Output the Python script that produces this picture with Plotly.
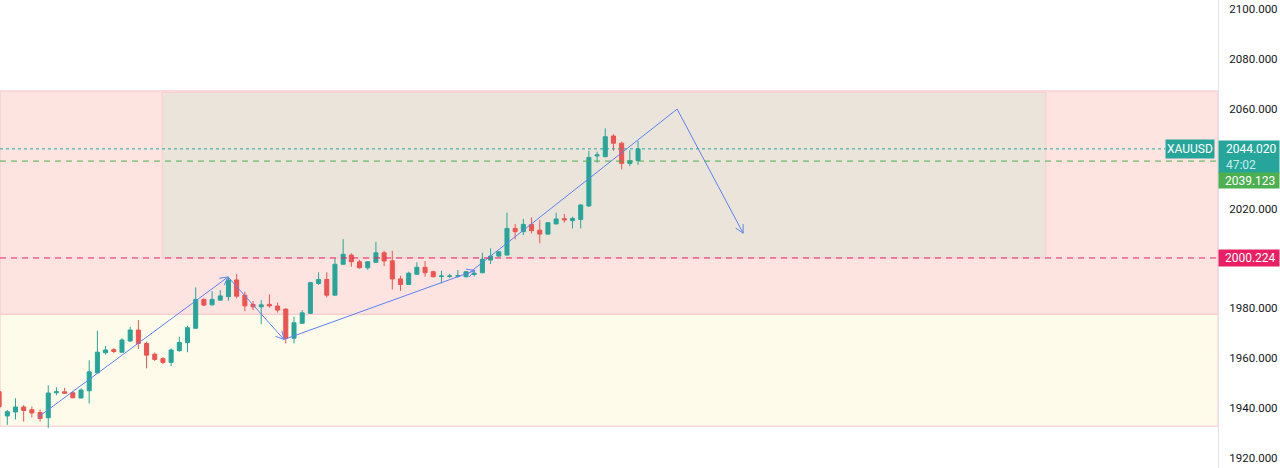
import math
import plotly.graph_objects as go

# ---------------- data ----------------
bar_index = list(range(79))
opens = [1946.5, 1936.8, 1938.4, 1940.4, 1939.3, 1938.2, 1936.1, 1946.1, 1946.5, 1946.1,
         1944.0, 1946.9, 1954.1, 1962.2, 1963.4, 1962.4, 1966.9, 1971.3, 1965.9, 1961.6,
         1959.8, 1958.3, 1963.0, 1966.3, 1972.0, 1983.6, 1981.4, 1983.3, 1984.7, 1991.4,
         1985.3, 1981.6, 1980.6, 1981.6, 1980.9, 1979.7, 1968.0, 1974.0, 1978.0, 1990.0,
         1991.6, 1985.3, 1997.7, 2001.4, 1998.7, 1996.3, 1998.5, 2002.3, 1999.1, 1991.8,
         1989.6, 1993.7, 1996.5, 1994.7, 1992.8, 1992.8, 1992.9, 1992.7, 1993.6, 1994.3,
         1999.4, 2001.0, 2001.4, 2012.1, 2010.8, 2013.7, 2011.4, 2009.8, 2013.9, 2016.0,
         2015.2, 2015.7, 2021.1, 2041.2, 2040.9, 2049.2, 2046.3, 2038.2, 2039.3]
highs = [1947.5, 1939.2, 1943.9, 1941.2, 1940.6, 1939.4, 1949.1, 1948.3, 1948.1, 1946.8,
         1947.9, 1959.2, 1971.0, 1964.9, 1964.0, 1968.0, 1972.6, 1975.3, 1966.6, 1962.3,
         1960.4, 1963.9, 1968.6, 1973.0, 1988.4, 1984.0, 1986.9, 1987.3, 1992.7, 1993.8,
         1986.7, 1982.9, 1983.3, 1985.6, 1982.3, 1980.0, 1976.6, 1979.3, 1990.7, 1994.5,
         1994.5, 2000.1, 2007.8, 2002.1, 1999.5, 1998.9, 2006.7, 2003.1, 2003.1, 1993.1,
         1994.7, 1998.5, 1999.0, 1995.1, 1995.1, 1993.9, 1995.4, 1995.0, 1995.0, 2002.3,
         2004.1, 2003.1, 2018.4, 2013.9, 2015.9, 2016.5, 2015.5, 2014.6, 2018.4, 2017.9,
         2016.8, 2021.7, 2043.2, 2042.9, 2052.3, 2049.9, 2046.9, 2043.6, 2047.2]
lows = [1938.5, 1933.2, 1935.4, 1934.5, 1936.2, 1934.5, 1932.0, 1945.1, 1945.6, 1943.9,
        1943.9, 1941.8, 1953.9, 1961.5, 1962.0, 1962.2, 1966.6, 1963.7, 1955.9, 1958.9,
        1957.6, 1956.8, 1962.6, 1962.4, 1971.8, 1980.9, 1981.2, 1983.1, 1983.1, 1984.0,
        1978.9, 1979.3, 1973.6, 1980.3, 1978.3, 1965.9, 1965.9, 1973.8, 1977.8, 1989.4,
        1984.4, 1985.1, 1997.5, 1996.7, 1996.0, 1995.5, 1998.3, 1997.0, 1987.6, 1987.0,
        1989.4, 1993.4, 1992.7, 1992.4, 1990.0, 1992.2, 1992.3, 1992.4, 1992.8, 1994.1,
        1997.8, 2000.6, 2001.2, 2007.7, 2009.4, 2010.1, 2006.1, 2009.6, 2013.7, 2014.4,
        2012.1, 2012.1, 2020.8, 2038.5, 2040.7, 2043.3, 2035.8, 2037.1, 2037.6]
closes = [1940.5, 1938.5, 1940.4, 1939.0, 1938.0, 1935.8, 1946.0, 1946.5, 1945.9, 1944.1,
          1947.2, 1954.5, 1962.4, 1963.3, 1962.7, 1967.3, 1971.3, 1965.9, 1961.2, 1959.5,
          1958.3, 1963.3, 1966.3, 1972.2, 1983.6, 1981.3, 1983.6, 1985.0, 1991.4, 1984.9,
          1981.0, 1980.6, 1981.4, 1981.0, 1979.3, 1968.0, 1974.2, 1978.2, 1990.3, 1991.6,
          1985.3, 1997.7, 2001.7, 1998.7, 1996.3, 1998.7, 2002.3, 1999.0, 1991.8, 1989.6,
          1994.1, 1996.5, 1994.3, 1992.7, 1993.0, 1993.0, 1993.1, 1994.7, 1994.1, 1999.7,
          2001.0, 2002.7, 2012.1, 2010.8, 2013.7, 2011.2, 2009.8, 2014.4, 2015.9, 2015.5,
          2016.1, 2021.5, 2040.6, 2041.6, 2048.9, 2046.3, 2038.2, 2039.3, 2044.02]

symbol = "XAUUSD"
last_price = 2044.020
countdown = "47:02"
line_green_price = 2039.123
line_red_price = 2000.224

# zones (price bounds, bar bounds)
zone_red = (1977.6, 2067.3)
zone_yellow = (1932.7, 1977.6)
zone_gray_prices = (2000.224, 2066.8)
zone_gray_bars = (19.9, 127.8)

# drawn arrows: list of polylines in (bar, price)
arrow_paths = [
    [(4.75, 1936.3), (27.95, 1992.6)],
    [(27.95, 1992.6), (34.78, 1967.5)],
    [(34.78, 1967.5), (58.1, 1995.2)],
    [(57.3, 1994.0), (82.77, 2060.0), (90.83, 2010.2)],
]

# axis ticks (2000 and 2040 are hidden behind the price labels in the reference)
tick_vals = [1920, 1940, 1960, 1980, 2020, 2060, 2080, 2100]

# ---------------- layout constants ----------------
W, H = 1280, 468
M_R = 62
PLOT_W = W - M_R
PLOT_H = H
X_RANGE = [0.109, 148.8]
Y_RANGE = [1915.9, 2103.8]
px_x = PLOT_W / (X_RANGE[1] - X_RANGE[0])
px_y = PLOT_H / (Y_RANGE[1] - Y_RANGE[0])

UP = "#26A69A"
DOWN = "#EF5350"
ARROW = "#5B82F3"
FONT = "Roboto"
LBL = 12

fig = go.Figure()

fig.add_trace(go.Candlestick(
    x=bar_index, open=opens, high=highs, low=lows, close=closes,
    increasing=dict(line=dict(color=UP, width=1), fillcolor=UP),
    decreasing=dict(line=dict(color=DOWN, width=1), fillcolor=DOWN),
    whiskerwidth=0, showlegend=False, hoverinfo="skip",
))

shapes = []
# zones
shapes.append(dict(type="rect", xref="paper", yref="y", x0=0, x1=1,
                   y0=zone_red[0], y1=zone_red[1], fillcolor="#FDE4E1",
                   line=dict(color="#F8C6CB", width=1), layer="below"))
shapes.append(dict(type="rect", xref="paper", yref="y", x0=0, x1=1,
                   y0=zone_yellow[0], y1=zone_yellow[1], fillcolor="#FEFBEA",
                   line=dict(color="#F8C6CB", width=1), layer="below"))
shapes.append(dict(type="rect", xref="x", yref="y", x0=zone_gray_bars[0], x1=zone_gray_bars[1],
                   y0=zone_gray_prices[0], y1=zone_gray_prices[1], fillcolor="#EAE4DA",
                   line=dict(color="#F8CCCF", width=1), layer="below"))
# horizontal lines
shapes.append(dict(type="line", xref="paper", yref="y", x0=0, x1=(1165 / PLOT_W),
                   y0=last_price, y1=last_price, line=dict(color=UP, width=1, dash="dot")))
shapes.append(dict(type="line", xref="paper", yref="y", x0=0, x1=1,
                   y0=line_green_price, y1=line_green_price,
                   line=dict(color="#4CAF50", width=1, dash="6px,5px")))
shapes.append(dict(type="line", xref="paper", yref="y", x0=0, x1=1,
                   y0=line_red_price, y1=line_red_price,
                   line=dict(color="#E91E63", width=1, dash="6px,5px")))
fig.update_layout(shapes=shapes)

# arrows: shafts + open V heads (computed in pixel space via axis scales)
for path in arrow_paths:
    xs = [p[0] for p in path]
    ys = [p[1] for p in path]
    fig.add_trace(go.Scatter(x=xs, y=ys, mode="lines", line=dict(color=ARROW, width=1),
                             showlegend=False, hoverinfo="skip"))
    (xa, ya), (xb, yb) = path[-2], path[-1]
    dx = (xb - xa) * px_x
    dy = (yb - ya) * px_y
    ang = math.atan2(dy, dx)
    hx, hy = [], []
    for s in (+1, -1):
        a = ang + math.pi - s * math.radians(28)
        hx += [xb + 9 * math.cos(a) / px_x, xb, None]
        hy += [yb + 9 * math.sin(a) / px_y, yb, None]
    fig.add_trace(go.Scatter(x=hx, y=hy, mode="lines", line=dict(color=ARROW, width=1),
                             showlegend=False, hoverinfo="skip"))

# price labels
ann = []
ann.append(dict(xref="paper", yref="y", x=1, y=last_price, xanchor="left", yanchor="top",
                yshift=9, showarrow=False, align="left", bgcolor=UP, borderpad=1,
                width=58, height=30,
                text=(f"&nbsp;&nbsp;{last_price:.3f}<br>"
                      f"<span style='color:#C9ECE8'>&nbsp;&nbsp;{countdown}</span>"),
                font=dict(family=FONT, size=LBL, color="white")))
ann.append(dict(xref="paper", yref="y", x=1, y=line_green_price, xanchor="left", yanchor="top",
                yshift=-11, showarrow=False, align="left", bgcolor="#4CAF50", borderpad=0,
                width=60, height=15,
                text=f"&nbsp;&nbsp;{line_green_price:.3f}",
                font=dict(family=FONT, size=LBL, color="white")))
ann.append(dict(xref="paper", yref="y", x=1, y=line_red_price, xanchor="left", yanchor="middle",
                showarrow=False, align="left", bgcolor="#E91E63", borderpad=0,
                width=60, height=16,
                text=f"&nbsp;&nbsp;{line_red_price:.3f}",
                font=dict(family=FONT, size=LBL, color="white")))
ann.append(dict(xref="paper", yref="y", x=1, y=last_price, xanchor="right", yanchor="middle",
                xshift=-3, showarrow=False, bgcolor=UP, borderpad=1, height=16, width=46,
                text=symbol, font=dict(family=FONT, size=LBL, color="white")))
fig.update_layout(annotations=ann)

fig.update_layout(
    width=W, height=H,
    margin=dict(l=0, r=M_R, t=0, b=0),
    paper_bgcolor="white", plot_bgcolor="white",
    xaxis=dict(range=X_RANGE, visible=False, rangeslider=dict(visible=False), fixedrange=True),
    yaxis=dict(range=Y_RANGE, side="right", tickvals=tick_vals,
               ticktext=[f"{v:.3f}" for v in tick_vals],
               showgrid=False, zeroline=False, showline=True, linecolor="#E0E3EB", linewidth=1,
               ticks="", ticklabelstandoff=8,
               tickfont=dict(family=FONT, size=11.5, color="#131722")),
    font=dict(family=FONT),
    boxgap=0.3,
)

fig.write_html("out.html")
